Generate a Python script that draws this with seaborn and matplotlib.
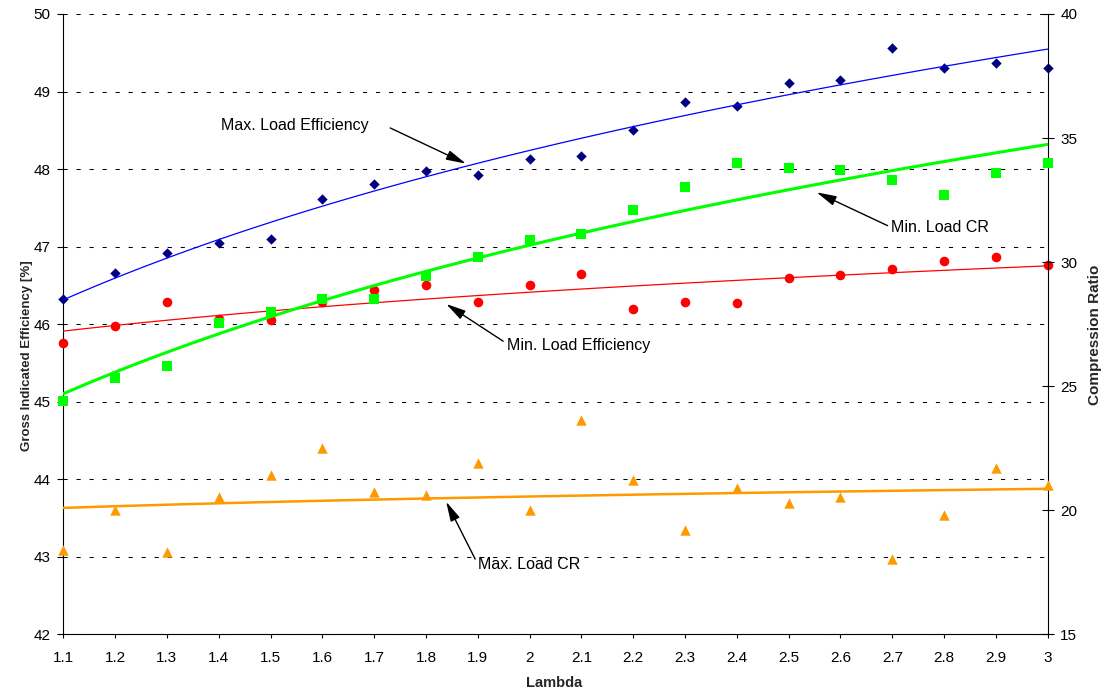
import numpy as np
import pandas as pd
import matplotlib
matplotlib.use("Agg")
import matplotlib.pyplot as plt
import seaborn as sns

# Lambda values (x axis)
lam = [1.1, 1.2, 1.3, 1.4, 1.5, 1.6, 1.7, 1.8, 1.9, 2.0,
       2.1, 2.2, 2.3, 2.4, 2.5, 2.6, 2.7, 2.8, 2.9, 3.0]

# Efficiency [%] (left axis)
max_load_eff = [46.32, 46.66, 46.92, 47.05, 47.10, 47.62, 47.81, 47.97, 47.92, 48.13,
                48.17, 48.50, 48.87, 48.81, 49.11, 49.15, 49.56, 49.30, 49.37, 49.30]
min_load_eff = [45.76, 45.97, 46.28, 46.07, 46.05, 46.28, 46.44, 46.50, 46.29, 46.50,
                46.65, 46.20, 46.29, 46.27, 46.59, 46.63, 46.71, 46.82, 46.87, 46.76]

# Compression ratio (right axis)
min_load_cr = [24.41, 25.32, 25.80, 27.55, 27.99, 28.51, 28.51, 29.43, 30.22, 30.90,
               31.12, 32.10, 33.01, 34.00, 33.80, 33.71, 33.32, 32.71, 33.60, 34.00]
max_load_cr = [18.41, 20.02, 18.31, 20.52, 21.40, 22.52, 20.73, 20.62, 21.90, 20.02,
               23.62, 21.23, 19.20, 20.88, 20.31, 20.53, 18.02, 19.82, 21.72, 21.00]

df = pd.DataFrame({
    "lam": lam,
    "max_eff": max_load_eff,
    "min_eff": min_load_eff,
    "min_cr": min_load_cr,
    "max_cr": max_load_cr,
})

sns.set_style("ticks")
plt.rcParams['font.family'] = ['Liberation Sans', 'DejaVu Sans']

fig = plt.figure(figsize=(11.08, 6.92), dpi=100)
ax = fig.add_axes([0.0571, 0.0834, 0.8885, 0.8964])
ax2 = ax.twinx()

# scatter + logarithmic trendline (like Excel) for each series
def trend(axis, col, marker, mcolor, lcolor, size, lw):
    sns.regplot(data=df, x="lam", y=col, ax=axis, logx=True, ci=None, marker=marker,
                scatter_kws=dict(color=mcolor, s=size, linewidths=0, alpha=1, clip_on=False, zorder=3),
                line_kws=dict(color=lcolor, lw=lw, zorder=4))

trend(ax, "max_eff", "D", "#000080", "#0000FF", 28, 0.9)
trend(ax, "min_eff", "o", "#FF0000", "#FF0000", 48, 0.9)
trend(ax2, "min_cr", "s", "#00FF00", "#00FF00", 50, 2.2)
trend(ax2, "max_cr", "^", "#FF9900", "#FF9900", 56, 1.8)

ax.set_xlim(1.1, 3.0)
ax.set_ylim(42, 50)
ax2.set_ylim(15, 40)

ax.set_xticks(lam)
ax.set_xticklabels([f"{v:g}" for v in lam])
ax.set_yticks(range(42, 51))
ax2.set_yticks(range(15, 41, 5))

ax.yaxis.grid(True, color="black", lw=0.75, ls=(0, (4, 8.5)))
ax.set_axisbelow(True)

for a in (ax, ax2):
    a.spines["top"].set_visible(False)
    for s in a.spines.values():
        s.set_color("black")
        s.set_linewidth(0.8)
ax.spines["right"].set_visible(False)
ax2.spines["left"].set_visible(False)
ax2.spines["bottom"].set_visible(False)

ax.tick_params(axis="y", length=4, width=0.8, color="black", labelsize=11, pad=5, labelcolor="black")
ax.tick_params(axis="x", length=3, width=0.8, color="black", labelsize=11, pad=9, labelcolor="black")
ax2.tick_params(axis="y", direction="inout", length=8, width=0.8, color="black", labelsize=11, pad=5,
                labelcolor="black")

ax.set_xlabel("Lambda", fontsize=10.5, fontweight="bold")
ax.set_ylabel("Gross Indicated Efficiency [%]", fontsize=9.5, fontweight="bold")
ax2.set_ylabel("Compression Ratio", fontsize=11, fontweight="bold")
ax.xaxis.set_label_coords(0.4985, -0.067)
ax.yaxis.set_label_coords(-0.0305, 0.450)
ax2.yaxis.set_label_coords(1.041, 0.482)

# annotations (left axis units)
arrow = dict(arrowstyle="-|>,head_length=0.8,head_width=0.2", color="black", lw=1,
             mutation_scale=15, shrinkA=0, shrinkB=0)
notes = [
    ("Max. Load Efficiency", (1.404, 48.56), (1.731, 48.53), (1.877, 48.07)),
    ("Min. Load CR", (2.697, 47.24), (2.691, 47.27), (2.554, 47.70)),
    ("Min. Load Efficiency", (1.956, 45.73), (1.949, 45.78), (1.839, 46.26)),
    ("Max. Load CR", (1.900, 42.90), (1.895, 42.97), (1.839, 43.71)),
]
for label, txt, start, tip in notes:
    ax2.annotate("", xy=ax2.transData.inverted().transform(ax.transData.transform(tip)),
                 xytext=ax2.transData.inverted().transform(ax.transData.transform(start)),
                 arrowprops=arrow, zorder=6)
    ax.text(txt[0], txt[1], label, fontsize=11.5, ha="left", va="center", color="black")

fig.savefig("out.png", dpi=100)
